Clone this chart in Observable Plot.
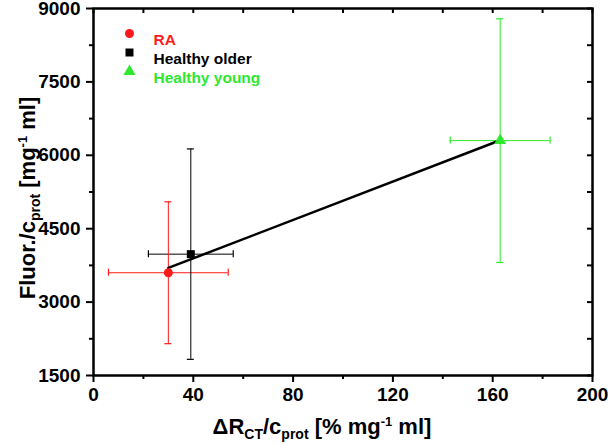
<!DOCTYPE html>
<html>
<head>
<meta charset="utf-8">
<script src="https://cdn.jsdelivr.net/npm/d3@7"></script>
<script src="https://cdn.jsdelivr.net/npm/@observablehq/plot@0.6"></script>
<style>
  html, body { margin: 0; padding: 0; background: #fff; }
  #chart svg { display: block; }
  #chart g[aria-label$="tick label"] { font-size: 19px; font-weight: bold; }
  #chart g[aria-label$="tick label"] text { font-size: 19px; font-weight: bold; }
</style>
</head>
<body>
<div id="chart"></div>
<script>
const groups = ["RA", "Healthy older", "Healthy young"];
const xVals = [30, 39, 163];
const yVals = [3600, 3980, 6300];
const xErr = [24, 17, 20];
const yErr = [1450, 2150, 2490];
const colors = ["#ff1a1a", "#000000", "#2ee82e"];
const symbols = ["circle", "square", "triangle"];
const xMajor = [0, 40, 80, 120, 160, 200];
const xMinor = [20, 60, 100, 140, 180];
const yMajor = [1500, 3000, 4500, 6000, 7500, 9000];
const yMinor = [2250, 3750, 5250, 6750, 8250];

const data = groups.map((g, i) => ({
  g, x: xVals[i], y: yVals[i], ex: xErr[i], ey: yErr[i],
  color: colors[i], symbol: symbols[i]
}));

const W = 608, H = 444, mL = 93, mR = 16, mT = 8, mB = 69;
const plotW = W - mL - mR, plotH = H - mT - mB;

const legendMarks = [];
data.forEach((d, i) => {
  legendMarks.push(Plot.dot([d], {
    frameAnchor: "top-left", dx: 36, dy: 25 + 19 * i,
    symbol: d.symbol, fill: d.color, r: 4.5
  }));
  legendMarks.push(Plot.text([d], {
    frameAnchor: "top-left", dx: 60, dy: 25 + 19 * i,
    text: "g", fill: d.color, fontSize: 15.5, fontWeight: "bold",
    textAnchor: "start"
  }));
});

const fmt = d => String(d);

const chart = Plot.plot({
  width: W, height: H,
  marginLeft: mL, marginRight: mR, marginTop: mT, marginBottom: mB,
  style: { fontFamily: "Liberation Sans, Arial, sans-serif", fontSize: "18px", fontWeight: "bold", color: "#000", background: "#fff" },
  x: { domain: [0, 200] },
  y: { domain: [1500, 9000] },
  marks: [
    Plot.axisX({ ticks: xMajor, tickSize: 7, tickPadding: 5, tickFormat: fmt, label: null, strokeWidth: 2, fontSize: 19, fontWeight: "bold" }),
    Plot.axisX({ ticks: xMinor, tickSize: 4, tickFormat: () => "", label: null, strokeWidth: 2 }),
    Plot.axisY({ ticks: yMajor, tickSize: 7, tickPadding: 6, tickFormat: fmt, label: null, strokeWidth: 2, fontSize: 19, fontWeight: "bold" }),
    Plot.axisY({ ticks: yMinor, tickSize: 4, tickFormat: () => "", label: null, strokeWidth: 2 }),
    Plot.tickX(xMajor.concat(xMinor), { x: d => d, insetBottom: plotH - 5, strokeWidth: 2 }),
    Plot.tickY(yMajor.concat(yMinor), { y: d => d, insetLeft: plotW - 5, strokeWidth: 2 }),
    // error bars
    Plot.ruleY(data, { y: "y", x1: d => d.x - d.ex, x2: d => d.x + d.ex, stroke: "color", strokeWidth: 1 }),
    Plot.ruleX(data, { x: "x", y1: d => d.y - d.ey, y2: d => d.y + d.ey, stroke: "color", strokeWidth: 1 }),
    // caps
    Plot.ruleY(data, { y: d => d.y - d.ey, x1: "x", x2: "x", insetLeft: -3.5, insetRight: -3.5, stroke: "color", strokeWidth: 1.2 }),
    Plot.ruleY(data, { y: d => d.y + d.ey, x1: "x", x2: "x", insetLeft: -3.5, insetRight: -3.5, stroke: "color", strokeWidth: 1.2 }),
    Plot.ruleX(data, { x: d => d.x - d.ex, y1: "y", y2: "y", insetTop: -3.5, insetBottom: -3.5, stroke: "color", strokeWidth: 1.2 }),
    Plot.ruleX(data, { x: d => d.x + d.ex, y1: "y", y2: "y", insetTop: -3.5, insetBottom: -3.5, stroke: "color", strokeWidth: 1.2 }),
    // regression line
    Plot.linearRegressionY(data, { x: "x", y: "y", stroke: "#000", strokeWidth: 2.5, ci: 0 }),
    Plot.dot(data, { x: "x", y: "y", symbol: "symbol", fill: "color", r: 4.5 }),
    ...legendMarks,
    Plot.frame({ strokeWidth: 2.5 })
  ]
});

document.getElementById("chart").appendChild(chart);

const svg = d3.select(chart.tagName.toLowerCase() === "svg" ? chart : chart.querySelector("svg"));
const ff = "Liberation Sans, Arial, sans-serif";

const xl = svg.append("text")
  .attr("x", 322).attr("y", 434)
  .attr("text-anchor", "middle")
  .style("font-family", ff).style("font-weight", "bold").style("font-size", "22px").attr("fill", "#000");
xl.append("tspan").text("\u0394R");
xl.append("tspan").attr("dy", 5).style("font-size", "14px").text("CT");
xl.append("tspan").attr("dy", -5).text("/c");
xl.append("tspan").attr("dy", 5).style("font-size", "14px").text("prot");
xl.append("tspan").attr("dy", -5).text(" [% mg");
xl.append("tspan").attr("dy", -8).style("font-size", "13px").text("-1");
xl.append("tspan").attr("dy", 8).text(" ml]");

const yl = svg.append("text")
  .attr("transform", "translate(35,198) rotate(-90)")
  .attr("text-anchor", "middle")
  .style("font-family", ff).style("font-weight", "bold").style("font-size", "22px").attr("fill", "#000");
yl.append("tspan").text("Fluor./c");
yl.append("tspan").attr("dy", 5).style("font-size", "14px").text("prot");
yl.append("tspan").attr("dy", -5).text(" [mg");
yl.append("tspan").attr("dy", -8).style("font-size", "13px").text("-1");
yl.append("tspan").attr("dy", 8).text(" ml]");
</script>
</body>
</html>
